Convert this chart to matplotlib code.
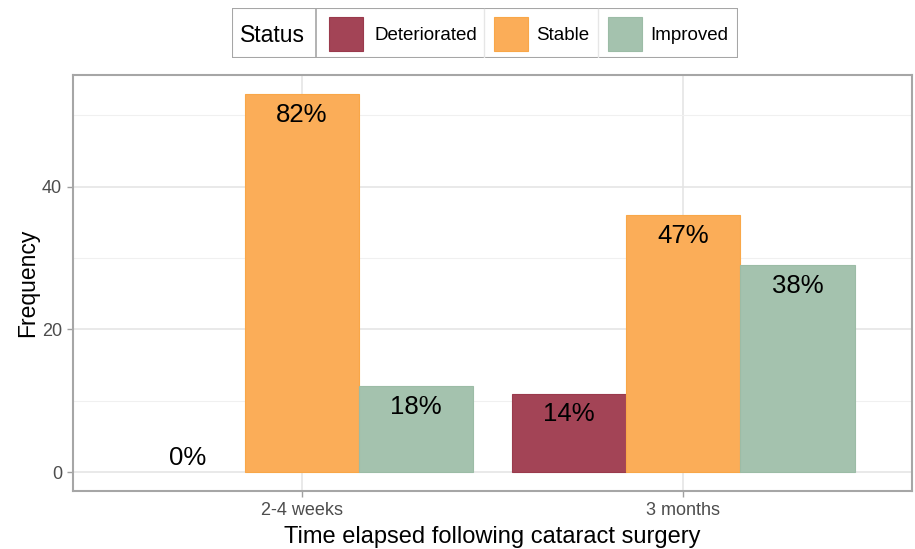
import matplotlib
matplotlib.use("Agg")
import matplotlib.pyplot as plt
from matplotlib.patches import Rectangle
import numpy as np

plt.rcParams['font.family'] = ['Liberation Sans', 'DejaVu Sans']

times = ['2-4 weeks', '3 months']
status = ['Deteriorated', 'Stable', 'Improved']
freq = {
    'Deteriorated': [0, 11],
    'Stable': [53, 36],
    'Improved': [12, 29],
}
pct = {
    'Deteriorated': ['0%', '14%'],
    'Stable': ['82%', '47%'],
    'Improved': ['18%', '38%'],
}
fills = {'Deteriorated': '#A34456', 'Stable': '#FBAD58', 'Improved': '#A4C2AE'}
edges = {'Deteriorated': '#9A3A4C', 'Stable': '#F9A748', 'Improved': '#9CBCA6'}

fig = plt.figure(figsize=(9.15, 5.49), dpi=100)
ax = fig.add_axes([73/915, 1 - 491/549, (912-73)/915, (491-75)/549])

x = np.arange(1, len(times) + 1)
w = 0.3
for i, s in enumerate(status):
    xs = x + (i - 1) * w
    vals = np.array(freq[s])
    lws = [0.8 if v > 0 else 0 for v in vals]
    ax.bar(xs, vals, width=w, color=fills[s], edgecolor=edges[s], linewidth=lws, zorder=3)
    for xi, v, lab in zip(xs, vals, pct[s]):
        ax.text(xi, max(v - 2.9, 2.0), lab, ha='center', va='center', fontsize=18.5,
                color='black', zorder=4)

ax.set_xlim(0.4, 2.6)
ax.set_ylim(-2.65, 55.65)
ax.set_xticks(x)
ax.set_xticklabels(times)
ax.set_yticks([0, 20, 40])
ax.set_yticks([10, 30, 50], minor=True)
ax.grid(True, which='major', color='#E3E3E3', linewidth=1.1, zorder=0)
ax.grid(True, which='minor', axis='y', color='#F0F0F0', linewidth=0.8, zorder=0)
ax.tick_params(axis='both', which='major', length=4, color='#A0A0A0', width=1,
               labelsize=13, labelcolor='#4D4D4D', pad=4)
ax.tick_params(axis='both', which='minor', length=0)
for sp in ax.spines.values():
    sp.set_color('#A6A6A6')
    sp.set_linewidth(1.5)
ax.set_xlabel('Time elapsed following cataract surgery', fontsize=17, labelpad=5)
ax.set_ylabel('Frequency', fontsize=16.5, labelpad=2)

# legend drawn in its own axes (pixel units)
lg = fig.add_axes([232/915, 1 - 58/549, (738-232)/915, 50/549])
lg.set_xlim(232, 738)
lg.set_ylim(58, 8)
lg.axis('off')
lg.add_patch(Rectangle((232, 8), 506, 50, facecolor='white', edgecolor='#A6A6A6', linewidth=1.5))
lg.plot([316, 316], [8, 58], color='#A6A6A6', linewidth=1.2)
lg.text(240, 36, 'Status', fontsize=16.5, va='center', ha='left')
key_x = [329, 494, 608]
text_x = [374, 536, 650]
for sep in [484, 598]:
    lg.plot([sep, sep], [9, 57], color='#E6E6E6', linewidth=1)
for s, kx, tx in zip(status, key_x, text_x):
    lg.add_patch(Rectangle((kx, 17), 34, 34, facecolor=fills[s], edgecolor=edges[s], linewidth=0.8))
    lg.text(tx, 36, s, fontsize=13.5, va='center', ha='left')

fig.savefig('out.png', dpi=100)
